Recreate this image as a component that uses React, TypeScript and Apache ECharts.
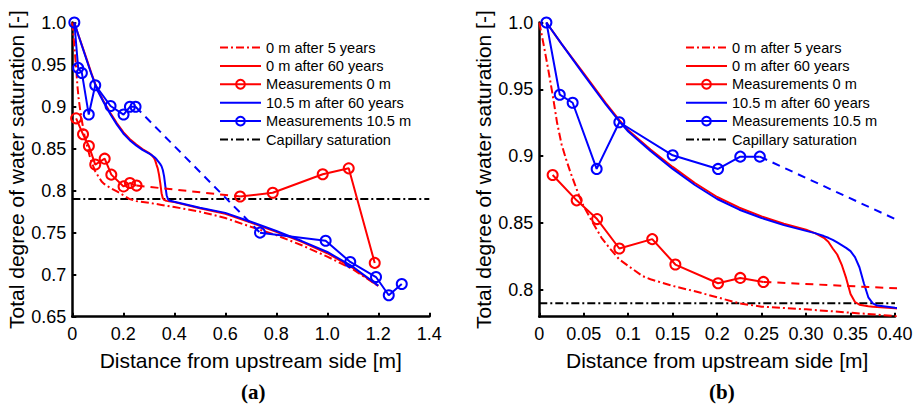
import React, { useEffect, useRef } from 'react';
import * as echarts from 'echarts';

// ---------- data ----------
const capillarySaturation = 0.79;

// simulation: 0 m after 5 years
const sim5X = [0, 0.005, 0.01, 0.015, 0.02, 0.025, 0.03, 0.035, 0.04, 0.045, 0.05, 0.06, 0.07, 0.08, 0.09, 0.1, 0.116, 0.125, 0.15, 0.175, 0.2, 0.225, 0.25, 0.3, 0.35, 0.4, 0.5, 0.6, 0.7, 0.8, 0.9, 1.0, 1.1, 1.2];
const sim5Y = [1.0, 0.983, 0.965, 0.946, 0.925, 0.909, 0.898, 0.888, 0.879, 0.87, 0.8625, 0.8505, 0.839, 0.8305, 0.8228, 0.818, 0.8104, 0.808, 0.803, 0.799, 0.7945, 0.79, 0.7875, 0.7855, 0.783, 0.7805, 0.775, 0.7675, 0.757, 0.747, 0.735, 0.7215, 0.7065, 0.6865];

// simulations after 60 years (shared x)
const sim60X = [0.008, 0.025, 0.05, 0.075, 0.09, 0.1, 0.125, 0.15, 0.175, 0.2, 0.225, 0.25, 0.275, 0.3, 0.31, 0.32, 0.325, 0.33, 0.335, 0.34, 0.345, 0.35, 0.355, 0.36, 0.365, 0.37, 0.375, 0.38, 0.4, 0.5, 0.6, 0.7, 0.8, 0.9, 1.0, 1.1, 1.2];
const sim0m60Y = [1.0, 0.984, 0.962, 0.9395, 0.927, 0.9195, 0.905, 0.892, 0.88, 0.8695, 0.8615, 0.855, 0.8495, 0.845, 0.8425, 0.839, 0.836, 0.831, 0.8265, 0.819, 0.809, 0.797, 0.791, 0.789, 0.7883, 0.7878, 0.7875, 0.7872, 0.7863, 0.779, 0.7725, 0.762, 0.751, 0.739, 0.7255, 0.708, 0.6865];
const sim105m60Y = [1.0, 0.984, 0.961, 0.9385, 0.926, 0.9185, 0.904, 0.8905, 0.8785, 0.868, 0.86, 0.8538, 0.8485, 0.8442, 0.8425, 0.8403, 0.839, 0.8375, 0.8355, 0.8335, 0.8315, 0.829, 0.8245, 0.817, 0.805, 0.7945, 0.79, 0.7883, 0.7867, 0.7797, 0.7735, 0.763, 0.752, 0.74, 0.727, 0.7095, 0.687];

// measurements at 0 m (near group, far group)
const meas0NearX = [0.015, 0.042, 0.065, 0.09, 0.127, 0.153, 0.201, 0.226, 0.252];
const meas0NearY = [0.886, 0.867, 0.853, 0.831, 0.838, 0.819, 0.805, 0.809, 0.806];
const meas0FarX = [0.658, 0.786, 0.982, 1.084, 1.186];
const meas0FarY = [0.793, 0.7975, 0.8194, 0.8265, 0.714];

// measurements at 10.5 m
const meas10NearX = [0.008, 0.023, 0.0375, 0.0645, 0.09, 0.15, 0.201, 0.226, 0.248];
const meas10NearY = [1.0, 0.946, 0.94, 0.8905, 0.9254, 0.9007, 0.8905, 0.8997, 0.8997];
const meas10FarX = [0.736, 0.9935, 1.09, 1.191, 1.241, 1.292];
const meas10FarY = [0.75, 0.7404, 0.7151, 0.6972, 0.6755, 0.6889];

// axes ticks and labels
const xTicksA = [0, 0.2, 0.4, 0.6, 0.8, 1.0, 1.2, 1.4];
const xLabelsA = ['0', '0.2', '0.4', '0.6', '0.8', '1.0', '1.2', '1.4'];
const yTicksA = [0.65, 0.7, 0.75, 0.8, 0.85, 0.9, 0.95, 1.0];
const yLabelsA = ['0.65', '0.7', '0.75', '0.8', '0.85', '0.9', '0.95', '1.0'];
const xTicksB = [0, 0.05, 0.1, 0.15, 0.2, 0.25, 0.3, 0.35, 0.4];
const xLabelsB = ['0', '0.05', '0.1', '0.15', '0.2', '0.25', '0.30', '0.35', '0.40'];
const yTicksB = [0.8, 0.85, 0.9, 0.95, 1.0];
const yLabelsB = ['0.8', '0.85', '0.9', '0.95', '1.0'];

const legendNames = [
  '0 m after 5 years',
  '0 m after 60 years',
  'Measurements 0 m',
  '10.5 m after 60 years',
  'Measurements 10.5 m',
  'Capillary saturation',
];
const legendWithMarker = ['Measurements 0 m', 'Measurements 10.5 m'];

// ---------- styling ----------
const RED = '#ff0000';
const BLUE = '#0000ff';
const FONT = 'Liberation Sans, Arial, sans-serif';
const DASHDOT = [8, 3, 2, 3];
const DASHED = [8, 6];

const zip = (xs: number[], ys: number[]) => xs.map((x, i) => [x, ys[i]]);
const fmt = (ticks: number[], labels: string[]) => (v: number) => {
  const i = ticks.findIndex((t) => Math.abs(t - v) < 1e-6);
  return i >= 0 ? labels[i] : '';
};

function xAxis(idx: number, max: number, interval: number, ticks: number[], labels: string[]) {
  return {
    type: 'value',
    gridIndex: idx,
    min: 0,
    max,
    interval,
    name: 'Distance from upstream side [m]',
    nameLocation: 'middle',
    nameGap: 33,
    nameTextStyle: { fontSize: 21, color: '#000', fontFamily: FONT },
    axisLine: { show: true, lineStyle: { color: '#000', width: 2.5 } },
    axisTick: { show: true, inside: true, length: 4, lineStyle: { color: '#000', width: 2 } },
    axisLabel: { fontSize: 18, color: '#000', fontFamily: FONT, margin: 8, formatter: fmt(ticks, labels) },
    splitLine: { show: false },
  };
}

function yAxis(idx: number, min: number, ticks: number[], labels: string[], interval?: number) {
  const base: any = {
    type: 'value',
    gridIndex: idx,
    min,
    max: 1.0,
    name: 'Total degree of water saturation [-]',
    nameLocation: 'middle',
    nameGap: 44,
    nameTextStyle: { fontSize: 21, color: '#000', fontFamily: FONT },
    axisLine: { show: true, lineStyle: { color: '#000', width: 2.5 } },
    axisTick: { show: true, inside: true, length: 4, lineStyle: { color: '#000', width: 2 } },
    axisLabel: { fontSize: 18, color: '#000', fontFamily: FONT, margin: 6, formatter: fmt(ticks, labels) },
    splitLine: { show: false },
  };
  if (interval) {
    base.interval = interval;
  } else {
    base.axisTick.customValues = ticks;
    base.axisLabel.customValues = ticks;
  }
  return base;
}

function panelSeries(p: number, xMax: number) {
  const ax = { xAxisIndex: p, yAxisIndex: p, type: 'line', animation: false };
  const plain = { ...ax, symbol: 'none', showSymbol: false, silent: true };
  const meas = (name: string, color: string, data: number[][]) => ({
    ...ax,
    name,
    data,
    symbol: 'circle',
    symbolSize: 10,
    showSymbol: true,
    itemStyle: { color: 'rgba(255,255,255,0)', borderColor: color, borderWidth: 2 },
    lineStyle: { color, width: 2 },
    z: 5,
  });
  return [
    {
      ...plain,
      name: 'Capillary saturation',
      data: [[0, capillarySaturation], [xMax, capillarySaturation]],
      itemStyle: { color: '#000' },
      lineStyle: { color: '#000', width: 2, type: DASHDOT },
    },
    {
      ...plain,
      name: '0 m after 5 years',
      data: zip(sim5X, sim5Y),
      itemStyle: { color: RED },
      lineStyle: { color: RED, width: 2, type: DASHDOT },
    },
    {
      ...plain,
      name: '0 m after 60 years',
      data: zip(sim60X, sim0m60Y),
      itemStyle: { color: RED },
      lineStyle: { color: RED, width: 2 },
    },
    {
      ...plain,
      name: '10.5 m after 60 years',
      data: zip(sim60X, sim105m60Y),
      itemStyle: { color: BLUE },
      lineStyle: { color: BLUE, width: 2 },
    },
    {
      ...plain,
      name: 'gap 0 m',
      data: [
        [meas0NearX[meas0NearX.length - 1], meas0NearY[meas0NearY.length - 1]],
        [meas0FarX[0], meas0FarY[0]],
      ],
      itemStyle: { color: RED },
      lineStyle: { color: RED, width: 2, type: DASHED },
    },
    {
      ...plain,
      name: 'gap 10.5 m',
      data: [
        [meas10NearX[meas10NearX.length - 1], meas10NearY[meas10NearY.length - 1]],
        [meas10FarX[0], meas10FarY[0]],
      ],
      itemStyle: { color: BLUE },
      lineStyle: { color: BLUE, width: 2, type: DASHED },
    },
    meas('Measurements 0 m', RED, zip(meas0NearX, meas0NearY)),
    meas('Measurements 0 m', RED, zip(meas0FarX, meas0FarY)),
    meas('Measurements 10.5 m', BLUE, zip(meas10NearX, meas10NearY)),
    meas('Measurements 10.5 m', BLUE, zip(meas10FarX, meas10FarY)),
  ];
}

const legendData = legendNames.map((name) =>
  legendWithMarker.includes(name)
    ? { name }
    : { name, itemStyle: { color: 'rgba(0,0,0,0)', borderColor: 'rgba(0,0,0,0)', borderWidth: 0, opacity: 0 } }
);

const legendBase = {
  orient: 'vertical',
  top: 40,
  padding: 0,
  itemWidth: 41,
  itemHeight: 11,
  itemGap: 3.4,
  data: legendData,
  selectedMode: false,
  textStyle: { fontSize: 14.6, color: '#000', fontFamily: FONT },
};

const option: any = {
  animation: false,
  backgroundColor: '#fff',
  grid: [
    { left: 72.3, top: 22.5, width: 357, height: 294.2 },
    { left: 539.3, top: 22.5, width: 355.7, height: 294.2 },
  ],
  xAxis: [xAxis(0, 1.4, 0.2, xTicksA, xLabelsA), xAxis(1, 0.4, 0.05, xTicksB, xLabelsB)],
  yAxis: [yAxis(0, 0.65, yTicksA, yLabelsA, 0.05), yAxis(1, 0.78, yTicksB, yLabelsB)],
  legend: [
    { ...legendBase, left: 219 },
    { ...legendBase, left: 685 },
  ],
  graphic: [
    { type: 'text', left: 241, top: 381, style: { text: '(a)', font: 'bold 21px "Liberation Serif", "Times New Roman", serif', fill: '#000' } },
    { type: 'text', left: 709, top: 381, style: { text: '(b)', font: 'bold 21px "Liberation Serif", "Times New Roman", serif', fill: '#000' } },
  ],
  series: [...panelSeries(0, 1.4), ...panelSeries(1, 0.4)],
};

export default function App() {
  const ref = useRef<HTMLDivElement>(null);
  useEffect(() => {
    const chart = echarts.init(ref.current!, null, { renderer: 'svg' });
    chart.setOption(option);
    return () => chart.dispose();
  }, []);
  return (
    <div
      ref={ref}
      style={{ position: 'fixed', left: 0, top: 0, width: 916, height: 407, background: '#fff' }}
    />
  );
}
